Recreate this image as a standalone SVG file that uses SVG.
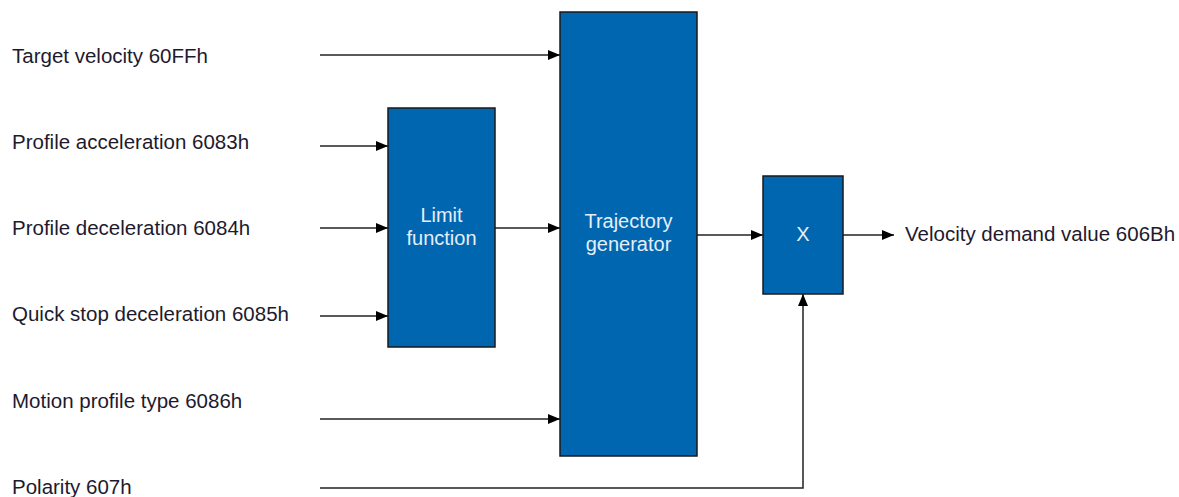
<svg xmlns="http://www.w3.org/2000/svg" width="1179" height="497" viewBox="0 0 1179 497">
<style>
.lbl{font-family:"Liberation Sans",Arial,sans-serif;font-size:20.5px;fill:#1e1a2e}
.box{fill:#0066b0;stroke:#1a1a1a;stroke-width:1.5}
.in{font-family:"Liberation Sans",Arial,sans-serif;font-size:20px;fill:#e6eef7;text-anchor:middle}
.ln{fill:none;stroke:#222;stroke-width:1.5}
</style>
<defs>
<marker id="ah" markerWidth="12" markerHeight="10" refX="12" refY="5" orient="auto" markerUnits="userSpaceOnUse">
<path d="M0,0 L12,5 L0,10 Z" fill="#000"/>
</marker>
</defs>
<rect width="1179" height="497" fill="#fff"/>
<g id="labels">
<text class="lbl" x="12" y="63">Target velocity 60FFh</text>
<text class="lbl" x="12" y="149">Profile acceleration 6083h</text>
<text class="lbl" x="12" y="235">Profile deceleration 6084h</text>
<text class="lbl" x="12" y="321">Quick stop deceleration 6085h</text>
<text class="lbl" x="12" y="408">Motion profile type 6086h</text>
<text class="lbl" x="12" y="494">Polarity 607h</text>
<text class="lbl" x="905" y="241">Velocity demand value 606Bh</text>
</g>
<g id="connectors">
<line class="ln" x1="320" y1="55" x2="560" y2="55" marker-end="url(#ah)"/>
<line class="ln" x1="320" y1="146" x2="388" y2="146" marker-end="url(#ah)"/>
<line class="ln" x1="320" y1="228" x2="388" y2="228" marker-end="url(#ah)"/>
<line class="ln" x1="320" y1="316" x2="388" y2="316" marker-end="url(#ah)"/>
<line class="ln" x1="495" y1="228" x2="560" y2="228" marker-end="url(#ah)"/>
<line class="ln" x1="320" y1="419" x2="560" y2="419" marker-end="url(#ah)"/>
<line class="ln" x1="697" y1="235" x2="763" y2="235" marker-end="url(#ah)"/>
<line class="ln" x1="843" y1="235" x2="894" y2="235" marker-end="url(#ah)"/>
<path class="ln" d="M320,488 H803 V294" marker-end="url(#ah)"/>
</g>
<g id="limit">
<rect class="box" x="388" y="108" width="107" height="239"/>
<text class="in" x="441.5" y="222">Limit</text>
<text class="in" x="441.5" y="245">function</text>
</g>
<g id="trajectory">
<rect class="box" x="560" y="12" width="137" height="444"/>
<text class="in" x="628.5" y="228">Trajectory</text>
<text class="in" x="628.5" y="251">generator</text>
</g>
<g id="multiplier">
<rect class="box" x="763" y="176" width="80" height="118"/>
<text class="in" x="803" y="241">X</text>
</g>
</svg>
